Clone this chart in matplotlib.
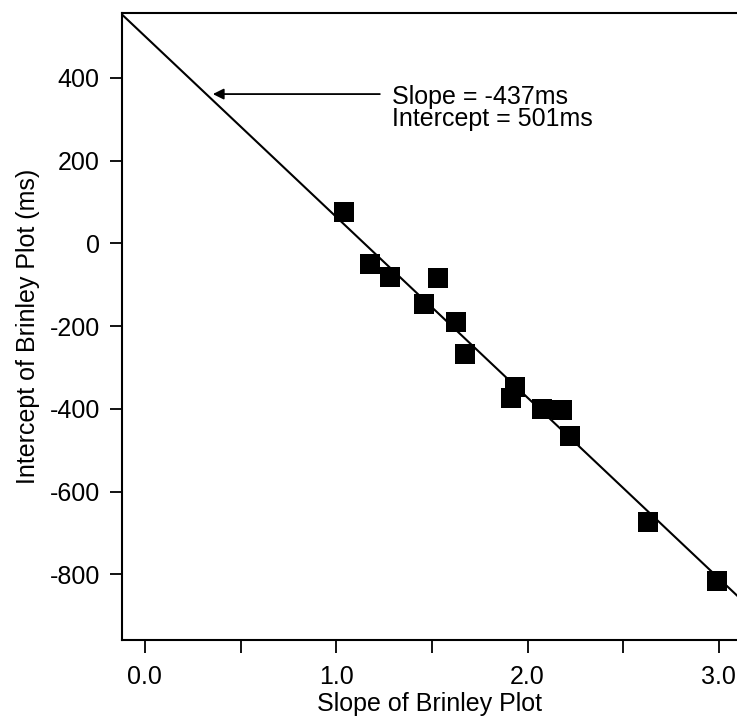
import matplotlib
matplotlib.use("Agg")
import matplotlib.pyplot as plt

plt.rcParams['font.family'] = ['Liberation Sans', 'DejaVu Sans']

# Data
brinley_slope = [1.040, 1.178, 1.281, 1.533, 1.460, 1.627, 1.671, 1.934, 1.912,
                 2.077, 2.178, 2.222, 2.629, 2.990]
brinley_intercept = [76, -51, -81, -83, -147, -189, -268, -347, -375,
                     -401, -403, -466, -673, -816]
fit_slope = -437
fit_intercept = 501
x_ticks = [0.0, 1.0, 2.0, 3.0]
x_tick_labels = ["0.0", "1.0", "2.0", "3.0"]
x_minor = [0.5, 1.5, 2.5]
y_ticks = [400, 200, 0, -200, -400, -600, -800]
y_tick_labels = ["400", "200", "0", "-200", "-400", "-600", "-800"]

FS = 18

fig = plt.figure(figsize=(7.37, 7.19), dpi=100)
ax = fig.add_axes([0.1655, 0.1099, 0.8345, 0.872])

ax.axline((0, fit_intercept), slope=fit_slope, color='black', lw=1.5, zorder=2)
ax.plot(brinley_slope, brinley_intercept, linestyle='none', marker='s',
        ms=15, mew=0, color='black', zorder=3)

ax.set_xlim(-0.12, 3.095)
ax.set_ylim(-959, 557)

ax.set_xticks(x_ticks)
ax.set_xticklabels(x_tick_labels)
ax.set_xticks(x_minor, minor=True)
ax.set_yticks(y_ticks)
ax.set_yticklabels(y_tick_labels)

ax.tick_params(axis='both', which='both', direction='out', length=9, width=1.3,
               labelsize=FS, color='black')
ax.tick_params(axis='x', which='major', pad=9)
ax.tick_params(axis='y', which='major', pad=7)

for side in ['left', 'bottom', 'top']:
    ax.spines[side].set_linewidth(1.5)
ax.spines['right'].set_visible(False)

ax.set_xlabel("Slope of Brinley Plot", fontsize=FS, labelpad=2)
ax.set_ylabel("Intercept of Brinley Plot (ms)", fontsize=FS, labelpad=7)

ax.annotate("", xy=(0.355, 361), xytext=(1.228, 361),
            arrowprops=dict(arrowstyle='-|>', color='black', lw=1.3,
                            mutation_scale=16, shrinkA=0, shrinkB=0))
ax.text(1.291, 354, "Slope = -437ms", fontsize=FS, va='center', ha='left')
ax.text(1.291, 301, "Intercept = 501ms", fontsize=FS, va='center', ha='left')

fig.savefig("out.png", dpi=100)
